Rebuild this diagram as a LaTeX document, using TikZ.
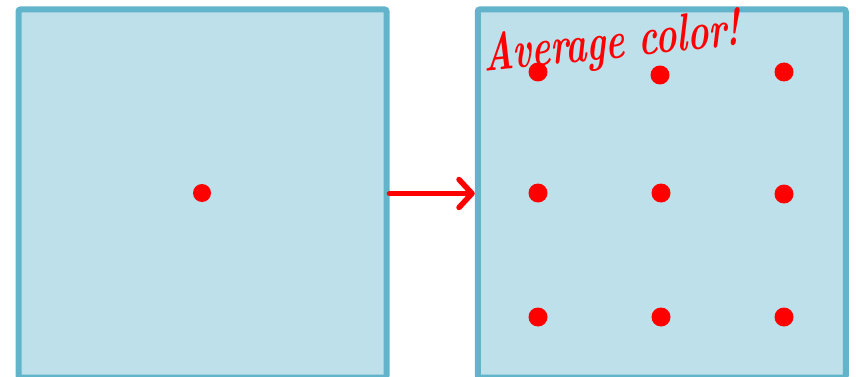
\documentclass[tikz,border=0pt]{standalone}
\usepackage{xcolor}
\usepackage{tikz}
\usetikzlibrary{arrows.meta, positioning}

\definecolor{boxfill}{HTML}{BEE0EA}
\definecolor{boxline}{HTML}{62B4CB}
\definecolor{dotred}{HTML}{FF0000}

\tikzset{
    pixbox/.style={draw=boxline, fill=boxfill, line width=6pt, rounded corners=2pt,
        minimum width=368pt, minimum height=368pt, inner sep=0pt},
    avgarrow/.style={draw=dotred, line width=5.5pt, line cap=round,
        -{Straight Barb[length=13pt, width=28pt, line cap=round, line join=round]}}
}

\begin{document}
\begin{tikzpicture}[x=1pt, y=-1pt]
    		\useasboundingbox (0,0) rectangle (856,377);
    		
    		\node[pixbox] (src) at (202.5, 193.5) {};
    		\node[pixbox] (dst) at (661.75, 193.5) {};
    		
    		\draw[avgarrow] (src.east) -- (dst.west);
    		
    		\fill[dotred] (202,193) circle (9pt);
    		
    		\foreach \x/\y in {
    			538/72,
    			660/75,
    			784/72,
    			538/193,
    			661/193,
    			784/194,
    			538/317,
    			661/317,
    			784/317
    		}{
    			\fill[dotred] (\x,\y) circle (9.5pt);
    		}
    		
    		\node[text=dotred, font=\bfseries\itshape\fontsize{53}{53}\selectfont, xscale=0.67, rotate=4, inner sep=0pt] (avg) at (612,45) {Average color!};
    	\end{tikzpicture}
\end{document}
